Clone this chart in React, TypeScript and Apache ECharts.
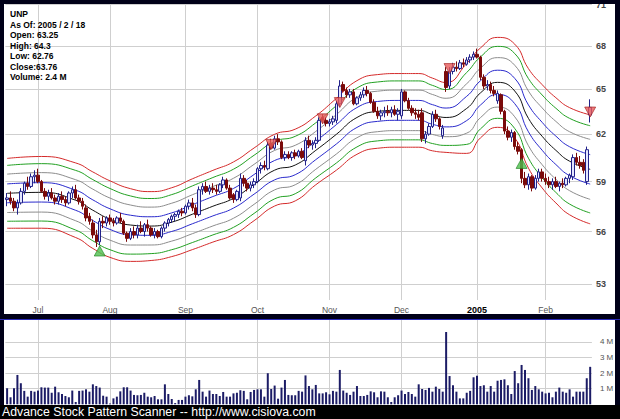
import React, { useEffect, useRef } from "react";
import * as echarts from "echarts";

// ---- categories: trading days ----
const monthDays: [string, number[]][] = [
  ["2004-06", [18, 21, 22, 23, 24, 25, 28, 29, 30]],
  ["2004-07", [1, 2, 6, 7, 8, 9, 12, 13, 14, 15, 16, 19, 20, 21, 22, 23, 26, 27, 28, 29, 30]],
  ["2004-08", [2, 3, 4, 5, 6, 9, 10, 11, 12, 13, 16, 17, 18, 19, 20, 23, 24, 25, 26, 27, 30, 31]],
  ["2004-09", [1, 2, 3, 7, 8, 9, 10, 13, 14, 15, 16, 17, 20, 21, 22, 23, 24, 27, 28, 29, 30]],
  ["2004-10", [1, 4, 5, 6, 7, 8, 11, 12, 13, 14, 15, 18, 19, 20, 21, 22, 25, 26, 27, 28, 29]],
  ["2004-11", [1, 2, 3, 4, 5, 8, 9, 10, 11, 12, 15, 16, 17, 18, 19, 22, 23, 24, 26, 29, 30]],
  ["2004-12", [1, 2, 3, 6, 7, 8, 9, 10, 13, 14, 15, 16, 17, 20, 21, 22, 23, 27, 28, 29, 30, 31]],
  ["2005-01", [3, 4, 5, 6, 7, 10, 11, 12, 13, 14, 18, 19, 20, 21, 24, 25, 26, 27, 28, 31]],
  ["2005-02", [1, 2, 3, 4, 7, 8, 9, 10, 11, 14, 15, 16, 17, 18]],
];
const monthLabels = ["Jul", "Aug", "Sep", "Oct", "Nov", "Dec", "2005", "Feb"];
const priceTicks = [53, 56, 59, 62, 65, 68, 71];
const volumeTicks = [1, 2, 3, 4];

// ---- daily bars: [open, high, low, close] ----
const ohlc: number[][] = [
  [57.9, 58.3, 57.5, 58.0], [58.0, 58.4, 57.6, 57.8], [57.8, 58.0, 57.2, 57.4], [57.4, 57.9, 57.0, 57.7],
  [57.7, 58.6, 57.6, 58.4], [58.4, 59.0, 58.2, 58.9], [58.9, 59.3, 58.5, 58.7], [58.7, 59.5, 58.6, 59.3],
  [59.3, 59.7, 58.9, 59.4], [59.4, 59.8, 58.9, 59.0], [59.0, 59.1, 58.3, 58.4], [58.4, 58.6, 57.9, 58.1],
  [58.1, 58.5, 57.8, 58.3], [58.3, 58.6, 57.9, 58.0], [58.0, 58.2, 57.6, 57.8], [57.8, 58.3, 57.6, 58.1],
  [58.1, 58.4, 57.7, 57.9], [57.9, 58.1, 57.5, 57.7], [57.7, 58.4, 57.6, 58.3], [58.3, 58.7, 58.0, 58.5],
  [58.5, 58.8, 57.9, 58.0], [58.0, 58.2, 57.6, 57.8], [57.8, 58.0, 57.3, 57.5], [57.4, 57.6, 56.6, 56.8],
  [56.9, 57.1, 56.4, 56.6], [56.5, 56.7, 55.6, 55.8], [55.8, 56.1, 55.1, 55.4], [55.4, 56.8, 55.2, 56.6],
  [56.6, 56.9, 56.2, 56.5], [56.5, 56.9, 56.3, 56.8], [56.8, 57.0, 56.4, 56.6], [56.6, 56.8, 56.3, 56.5],
  [56.5, 56.9, 56.4, 56.8], [56.8, 57.1, 56.5, 56.6], [56.6, 56.7, 55.8, 55.9], [55.9, 56.0, 55.4, 55.6],
  [55.6, 56.2, 55.5, 56.0], [56.0, 56.3, 55.6, 55.8], [55.8, 56.4, 55.6, 56.2], [56.2, 56.6, 55.9, 56.0],
  [56.0, 56.5, 55.7, 56.4], [56.4, 56.7, 56.0, 56.2], [56.2, 56.3, 55.7, 55.8], [55.8, 56.2, 55.6, 56.0],
  [56.0, 56.1, 55.6, 55.7], [55.7, 56.3, 55.6, 56.2], [56.2, 56.6, 56.0, 56.5], [56.5, 56.8, 56.3, 56.7],
  [56.7, 57.0, 56.5, 56.9], [56.9, 57.1, 56.6, 57.0], [57.0, 57.3, 56.8, 57.2], [57.2, 57.4, 56.9, 57.1],
  [57.1, 57.6, 57.0, 57.5], [57.5, 57.9, 57.3, 57.7], [57.7, 58.0, 57.2, 57.4], [57.4, 57.6, 56.8, 57.0],
  [57.0, 58.7, 56.9, 58.5], [58.5, 58.9, 58.2, 58.7], [58.7, 59.0, 58.3, 58.4], [58.4, 58.8, 58.2, 58.6],
  [58.6, 58.9, 58.3, 58.5], [58.5, 58.8, 58.2, 58.4], [58.4, 58.9, 58.3, 58.8], [58.8, 59.3, 58.6, 59.1],
  [59.1, 59.2, 58.5, 58.6], [58.6, 58.8, 57.9, 58.0], [58.2, 58.3, 57.7, 57.9], [57.9, 58.5, 57.8, 58.4],
  [58.0, 59.5, 57.8, 59.2], [59.2, 59.4, 58.7, 58.9], [58.9, 59.1, 58.4, 58.6], [58.6, 59.0, 58.4, 58.8],
  [58.8, 59.2, 58.6, 59.0], [59.0, 59.9, 58.9, 59.8], [59.8, 60.2, 59.5, 60.0], [60.0, 60.3, 59.7, 59.9],
  [59.8, 61.5, 59.7, 61.3], [61.4, 61.7, 61.0, 61.1], [61.1, 61.9, 61.0, 61.7], [61.7, 62.0, 61.3, 61.5],
  [61.5, 61.6, 60.4, 60.5], [60.5, 60.9, 60.3, 60.7], [60.7, 60.9, 60.4, 60.5], [60.5, 60.9, 60.3, 60.8],
  [60.8, 61.0, 60.4, 60.6], [60.6, 61.0, 60.5, 60.9], [60.9, 61.1, 60.4, 60.5], [60.3, 61.8, 60.0, 61.6],
  [61.6, 61.9, 61.1, 61.3], [61.3, 61.6, 61.0, 61.4], [61.4, 61.8, 61.1, 61.6], [61.6, 63.1, 61.5, 62.9],
  [63.1, 63.3, 62.7, 62.9], [62.9, 63.1, 62.5, 62.7], [62.7, 63.0, 62.5, 62.8], [62.8, 63.2, 62.6, 63.0],
  [62.9, 64.2, 62.7, 64.0], [64.0, 65.6, 63.8, 65.2], [65.3, 65.5, 64.8, 64.9], [64.9, 65.1, 64.4, 64.6],
  [64.6, 65.0, 64.4, 64.8], [64.8, 65.0, 63.9, 64.0], [64.0, 64.5, 63.9, 64.4], [64.4, 64.8, 64.2, 64.6],
  [64.6, 65.1, 64.4, 64.9], [64.9, 65.2, 64.5, 64.7], [64.7, 64.8, 64.0, 64.1], [64.1, 64.3, 63.4, 63.5],
  [63.5, 63.8, 63.0, 63.2], [63.2, 63.6, 62.9, 63.4], [63.4, 63.8, 63.1, 63.5], [63.5, 63.9, 63.2, 63.4],
  [63.4, 63.8, 63.1, 63.6], [63.6, 63.9, 63.2, 63.3], [63.3, 63.7, 62.9, 63.5], [63.2, 65.0, 63.0, 64.8],
  [64.8, 64.9, 64.1, 64.2], [64.2, 64.4, 63.6, 63.7], [63.7, 63.9, 63.2, 63.4], [63.4, 63.7, 63.0, 63.3],
  [63.3, 63.6, 62.9, 63.1], [63.4, 63.7, 61.5, 61.7], [61.7, 62.2, 61.4, 62.0], [62.0, 62.7, 61.9, 62.5],
  [62.5, 63.5, 62.4, 63.3], [63.3, 63.6, 62.8, 63.0], [63.0, 63.1, 62.3, 62.5], [61.9, 62.6, 61.7, 62.4],
  [66.2, 66.5, 64.8, 65.1], [65.2, 66.5, 65.0, 66.2], [66.2, 66.8, 66.0, 66.5], [66.5, 66.9, 66.2, 66.4],
  [66.4, 67.0, 66.3, 66.8], [66.8, 67.1, 66.5, 66.7], [66.7, 67.2, 66.6, 67.0], [67.0, 67.4, 66.8, 67.2],
  [67.2, 67.6, 67.0, 67.4], [67.4, 67.8, 67.1, 67.2], [67.2, 67.3, 65.6, 65.8], [65.8, 66.0, 65.0, 65.2],
  [65.2, 65.6, 64.9, 65.3], [65.3, 65.5, 64.7, 64.9], [64.9, 65.2, 64.5, 64.7], [64.2, 64.9, 64.0, 64.7],
  [64.6, 64.7, 63.3, 63.5], [63.5, 63.6, 62.0, 62.2], [62.2, 62.5, 61.6, 61.8], [61.8, 62.3, 61.5, 62.1],
  [62.1, 62.2, 61.0, 61.2], [61.2, 61.5, 60.7, 60.9], [61.0, 61.1, 58.9, 59.2], [59.2, 59.6, 58.6, 58.8],
  [58.8, 59.5, 58.5, 59.3], [59.3, 59.4, 58.4, 58.6], [58.6, 59.4, 58.5, 59.2], [59.2, 59.8, 59.0, 59.6],
  [59.6, 59.8, 59.0, 59.2], [59.2, 59.5, 58.8, 59.0], [59.0, 59.3, 58.6, 58.8], [58.8, 59.2, 58.5, 59.0],
  [59.0, 59.3, 58.6, 58.7], [58.7, 59.0, 58.4, 58.9], [58.9, 59.2, 58.6, 58.8], [58.8, 59.3, 58.7, 59.2],
  [59.2, 59.5, 58.9, 59.4], [59.3, 60.7, 59.1, 60.5], [60.5, 60.8, 60.0, 60.2], [60.2, 60.6, 59.8, 60.0],
  [60.2, 60.4, 59.5, 59.7], [59.0, 61.2, 58.8, 61.0], [63.25, 64.3, 62.76, 63.76],
];

// ---- volume, millions ----
const volume: number[] = [
  1.03, 0.45, 1.03, 1.88, 1.35, 0.86, 0.49, 0.86, 0.81, 0.88, 1.09, 1.07, 1.07, 0.74, 1.13, 0.77, 0.66, 0.53, 0.45, 0.88,
  0.15, 0.86, 0.88, 0.96, 0.81, 1.28, 1.17, 1.07, 0.55, 0.49, 0.05, 0.38, 0.49, 0.83, 1.09, 1.09, 0.88, 0.6, 0.58, 0.6,
  0.74, 0.49, 0.45, 0.53, 0.32, 0.32, 1.28, 0.66, 0.34, 0.08, 0.28, 0.28, 0.49, 0.58, 0.51, 0.96, 1.56, 0.81, 0.49, 0.88,
  0.66, 0.66, 0.53, 0.79, 0.49, 0.49, 0.7, 0.74, 0.9, 0.86, 0.32, 0.79, 0.92, 0.96, 0.96, 0.49, 1.99, 0.98, 1.2, 0.36,
  1.07, 1.56, 0.6, 0.58, 0.58, 0.86, 0.81, 1.85, 1.17, 0.96, 1.24, 0.7, 0.7, 0.77, 0.64, 0.86, 0.81, 2.2, 0.88, 0.74,
  0.6, 0.81, 1.17, 0.53, 0.53, 0.6, 0.83, 0.77, 0.45, 0.83, 0.81, 0.45, 0.15, 0.45, 0.58, 0.88, 0.66, 0.79, 0.66, 0.49,
  1.28, 0.98, 0.92, 1.05, 0.81, 1.13, 0.98, 0.81, 4.63, 1.81, 1.22, 0.81, 0.38, 0.38, 0.74, 0.86, 1.73, 1.83, 1.17, 1.22,
  0.81, 1.17, 0.81, 1.51, 1.56, 1.6, 1.22, 0.66, 2.13, 1.35, 2.52, 2.2, 1.67, 0.92, 1.17, 0.96, 0.81, 0.7, 0.74, 0.45,
  0.81, 1.07, 0.81, 0.74, 0.96, 0.49, 0.81, 0.81, 0.81, 1.67, 2.4,
];

// ---- envelope: centre line and half width (%), read at sample days ----
const envIdx = [0, 10, 20, 25, 30, 36, 42, 48, 54, 60, 66, 72, 78, 84, 90, 96, 102, 108, 114, 120, 124, 128, 134, 138, 143, 148, 152, 156, 160, 164, 170];
const envMid = [58.28, 58.34, 57.86, 57.26, 56.73, 56.38, 56.32, 56.55, 57.02, 57.5, 57.98, 58.83, 59.71, 60.03, 60.96, 61.99, 63.09, 63.49, 63.56, 63.56, 63.29, 63.09, 63.69, 64.73, 65.45, 64.86, 63.03, 61.86, 60.96, 60.27, 59.76];
const envHalf = [3.65, 3.75, 3.9, 4.0, 4.0, 3.8, 3.6, 3.6, 3.7, 3.75, 3.8, 3.8, 3.75, 3.75, 3.6, 3.75, 3.85, 3.85, 3.85, 3.85, 3.8, 3.65, 4.7, 4.7, 4.7, 4.9, 5.2, 5.4, 5.5, 5.6, 5.7];
const bandK = [1, 0.8, 0.55, 0.27, 0, -0.27, -0.55, -0.8, -1];
const bandColors = ["#d42a2a", "#22a022", "#8c8c8c", "#2a2acc", "#111111", "#2a2acc", "#8c8c8c", "#22a022", "#d42a2a"];

// ---- pattern markers [day index, price] ----
const bearMarks = [[77, 61.34], [92, 63.0], [97, 64.08], [129, 66.4], [170, 63.45]];
const bullMarks = [[27, 54.87], [150, 60.13]];

const dates: string[] = [];
const monthStarts: number[] = [];
monthDays.forEach(([m, days], mi) => {
  days.forEach((d, di) => {
    if (di === 0 && mi > 0) monthStarts.push(dates.length);
    dates.push(`${m}-${String(d).padStart(2, "0")}`);
  });
});

export default function App() {
  const ref = useRef<HTMLDivElement>(null);
  useEffect(() => {
    if (!ref.current) return;
    const chart = echarts.init(ref.current, undefined, { renderer: "svg" });
    const n = dates.length;
    const last = ohlc[n - 1];
    const gridLine = { show: true, lineStyle: { color: "#cfcfcf", width: 1 } };
    const infoLines = [
      "UNP",
      "As Of: 2005 / 2 / 18",
      `Open: ${last[0]}`,
      `High: ${last[1]}`,
      `Low: ${last[2]}`,
      `Close:${last[3]}`,
      `Volume: ${volume[n - 1]} M`,
    ];
    const frame = "#000018";
    const option: any = {
      animation: false,
      backgroundColor: "#ffffff",
      grid: [
        { left: 5.4, right: 28.1, top: 0, bottom: 119 },
        { left: 5.4, right: 28.1, top: 320, bottom: 14.7 },
      ],
      xAxis: [
        { type: "category", gridIndex: 0, data: dates, show: false },
        {
          type: "value", gridIndex: 0, min: -0.5, max: n - 0.5, position: "bottom",
          axisLine: { show: false },
          axisTick: { show: false, customValues: monthStarts },
          splitLine: gridLine,
          axisLabel: {
            customValues: monthStarts, margin: 5, fontSize: 8.5, color: "#555", fontFamily: "Arial",
            formatter: (v: number) => {
              const k = monthStarts.indexOf(Math.round(v));
              const s = monthLabels[k] ?? "";
              return s === "2005" ? "{b|2005}" : s;
            },
            rich: { b: { fontWeight: "bold", color: "#000", fontSize: 9, fontFamily: "Arial" } },
          },
        },
        { type: "category", gridIndex: 1, data: dates, show: false },
        {
          type: "value", gridIndex: 1, min: -0.5, max: n - 0.5, position: "bottom",
          axisLine: { show: false },
          axisTick: { show: false, customValues: monthStarts },
          axisLabel: { show: false },
          splitLine: gridLine,
        },
      ],
      yAxis: [
        {
          type: "log", gridIndex: 0, min: 52.13, max: 71.26, position: "right",
          axisLine: { show: false },
          axisTick: { show: false, customValues: priceTicks },
          axisLabel: {
            customValues: priceTicks, margin: 4, fontSize: 9, fontWeight: "bold", color: "#444", fontFamily: "Arial",
            formatter: (v: number) => `${Math.round(v)}`,
          },
          splitLine: gridLine,
        },
        {
          type: "value", gridIndex: 1, min: 0, max: 5.4, position: "right",
          axisLine: { show: false },
          axisTick: { show: false, customValues: volumeTicks },
          axisLabel: { customValues: volumeTicks, margin: 8, fontSize: 8, color: "#555", fontFamily: "Arial", formatter: (v: number) => `${v} M` },
          splitLine: gridLine,
        },
      ],
      series: [
        ...bandK.map((k, b) => ({
          type: "line", xAxisIndex: 1, yAxisIndex: 0, symbol: "none", smooth: 0.5, z: 2,
          lineStyle: { color: bandColors[b], width: 1 },
          data: envIdx.map((ix, j) => [ix, envMid[j] * Math.exp((k * envHalf[j]) / 100)]),
        })),
        {
          type: "candlestick", xAxisIndex: 0, yAxisIndex: 0, barWidth: 3, z: 3,
          data: ohlc.map(([o, h, l, c]) => [o, c, l, h]),
          itemStyle: { color: "#e4e6ff", color0: "#7a0a0a", borderColor: "#22228a", borderColor0: "#7a0a0a", borderWidth: 1 },
        },
        {
          type: "scatter", xAxisIndex: 1, yAxisIndex: 0, symbol: "triangle", symbolRotate: 180, symbolSize: [11, 10], z: 5,
          data: bearMarks,
          itemStyle: { color: "#e85a5a", borderColor: "#a02020", borderWidth: 0.8 },
        },
        {
          type: "scatter", xAxisIndex: 1, yAxisIndex: 0, symbol: "triangle", symbolSize: [11, 10], z: 5,
          data: bullMarks,
          itemStyle: { color: "#4ec04e", borderColor: "#208020", borderWidth: 0.8 },
        },
        {
          type: "bar", xAxisIndex: 2, yAxisIndex: 1, barWidth: 2, data: volume,
          itemStyle: { color: "#1c1c66" },
        },
      ],
      graphic: [
        { type: "rect", z: 100, shape: { x: 0, y: 0, width: 620, height: 4 }, style: { fill: frame } },
        { type: "rect", z: 100, shape: { x: 0, y: 0, width: 4, height: 419 }, style: { fill: frame } },
        { type: "rect", z: 100, shape: { x: 615, y: 0, width: 5, height: 419 }, style: { fill: frame } },
        { type: "rect", z: 100, shape: { x: 0, y: 314, width: 620, height: 5 }, style: { fill: frame } },
        { type: "rect", z: 100, shape: { x: 0, y: 319, width: 620, height: 1 }, style: { fill: "#2a2ab8" } },
        { type: "rect", z: 100, shape: { x: 0, y: 405, width: 620, height: 14 }, style: { fill: "#000000" } },
        {
          type: "text", z: 101, x: 2, y: 412,
          style: { text: "Advance Stock Pattern Scanner -- http://www.cisiova.com", fill: "#ffffff", font: "12.3px Arial", verticalAlign: "middle" },
        },
        ...infoLines.map((t, k) => ({
          type: "text", z: 101, x: 10, y: 14 + k * 10.5,
          style: { text: t, fill: "#000", font: "bold 8.5px Arial", verticalAlign: "middle" },
        })),
      ],
    };
    chart.setOption(option);
    return () => chart.dispose();
  }, []);
  return <div ref={ref} style={{ position: "fixed", left: 0, top: 0, width: 620, height: 419 }} />;
}
